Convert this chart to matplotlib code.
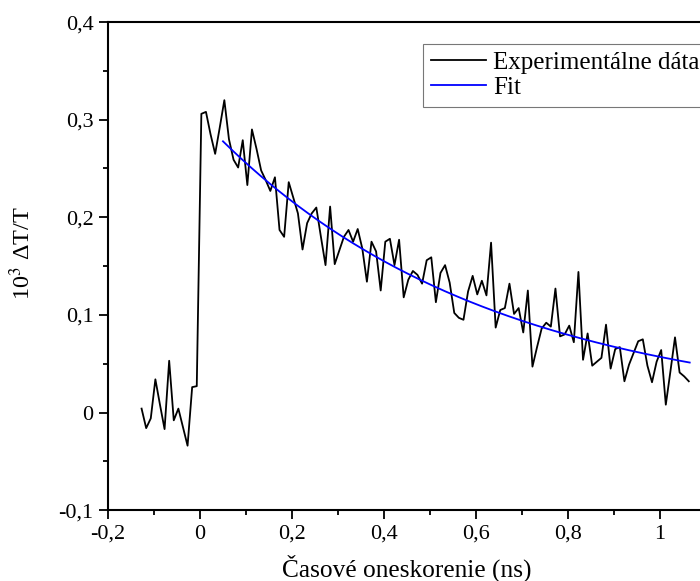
import numpy as np
import matplotlib
matplotlib.use("Agg")
from matplotlib import pyplot as plt
from matplotlib.ticker import FixedLocator, MultipleLocator

plt.rcParams['font.family'] = ['Liberation Serif', 'DejaVu Serif']
plt.rcParams['mathtext.fontset'] = 'stix'

# time grid of the measurement (ns)
T_START = -0.127
T_STEP = 0.01

# experimental trace, 10^3 dT/T
signal = [0.004, -0.016, -0.006, 0.034, 0.008, -0.017, 0.053, -0.008, 0.004, -0.015,
          -0.034, 0.026, 0.027, 0.306, 0.308, 0.285, 0.265, 0.292, 0.320, 0.280,
          0.259, 0.251, 0.279, 0.233, 0.290, 0.270, 0.248, 0.238, 0.227, 0.241,
          0.187, 0.180, 0.236, 0.220, 0.204, 0.167, 0.194, 0.204, 0.210, 0.180,
          0.151, 0.211, 0.152, 0.166, 0.180, 0.187, 0.175, 0.188, 0.168, 0.134,
          0.175, 0.165, 0.125, 0.175, 0.178, 0.151, 0.177, 0.118, 0.136, 0.145,
          0.141, 0.132, 0.156, 0.159, 0.113, 0.143, 0.151, 0.133, 0.102, 0.097,
          0.095, 0.124, 0.140, 0.121, 0.135, 0.120, 0.174, 0.087, 0.105, 0.107,
          0.132, 0.101, 0.107, 0.082, 0.125, 0.047, 0.067, 0.086, 0.092, 0.088,
          0.127, 0.078, 0.080, 0.089, 0.072, 0.144, 0.054, 0.081, 0.048, 0.052,
          0.056, 0.090, 0.045, 0.065, 0.067, 0.032, 0.049, 0.061, 0.073, 0.075,
          0.048, 0.031, 0.052, 0.064, 0.008, 0.042, 0.077, 0.041, 0.037, 0.032]

# single exponential fit  y = A * exp(-t / tau)
FIT_A = 0.302
FIT_TAU = 0.60
FIT_RANGE = (0.05, 1.065)

x_ticks = [-0.2, 0, 0.2, 0.4, 0.6, 0.8, 1.0]
x_ticklabels = ['-0,2', '0', '0,2', '0,4', '0,6', '0,8', '1']
y_ticks = [-0.1, 0, 0.1, 0.2, 0.3, 0.4]
y_ticklabels = ['-0,1', '0', '0,1', '0,2', '0,3', '0,4']

t = T_START + T_STEP * np.arange(len(signal))
t_fit = np.linspace(FIT_RANGE[0], FIT_RANGE[1], 300)
y_fit = FIT_A * np.exp(-t_fit / FIT_TAU)

fig = plt.figure(figsize=(7.0, 5.81), dpi=100)
ax = fig.add_axes([0.1543, 0.122, 0.854, 0.840])

ax.plot(t, signal, color='black', lw=1.3, label='Experimentálne dáta')
ax.plot(t_fit, y_fit, color='#0000ff', lw=1.3, label='Fit')

ax.set_xlim(-0.2, 1.1)
ax.set_ylim(-0.1, 0.4)
ax.xaxis.set_major_locator(FixedLocator(x_ticks))
ax.set_xticklabels(x_ticklabels)
ax.yaxis.set_major_locator(FixedLocator(y_ticks))
ax.set_yticklabels(y_ticklabels)
ax.xaxis.set_minor_locator(MultipleLocator(0.1))
ax.yaxis.set_minor_locator(MultipleLocator(0.05))
ax.tick_params(which='both', direction='out', top=False, right=False, width=1.3,
               labelsize=16, pad=4)
ax.tick_params(which='major', length=6.5)
ax.tick_params(which='minor', length=3.8)
for sp in ax.spines.values():
    sp.set_linewidth(1.5)

ax.set_xlabel('Časové oneskorenie (ns)', fontsize=18.3, labelpad=8)
ax.set_ylabel('10$^3$ ΔT/T', fontsize=17.5)
ax.yaxis.set_label_coords(-0.122, 0.527)

leg = ax.legend(loc='upper left', bbox_to_anchor=(0.527, 0.956), fontsize=18,
                frameon=True, fancybox=False, handlelength=2.2, handletextpad=0.3,
                borderpad=0.3, labelspacing=0.12, borderaxespad=0)
leg.get_frame().set_edgecolor('#555555')
leg.get_frame().set_linewidth(0.8)

fig.savefig('out.png', dpi=100)
